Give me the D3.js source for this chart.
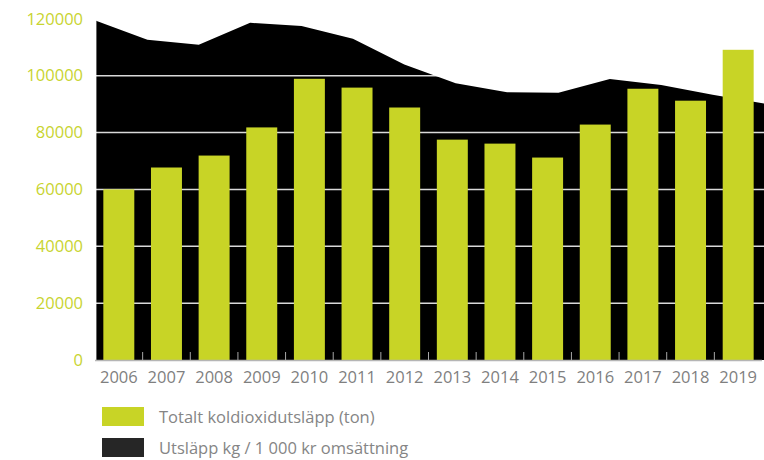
<!DOCTYPE html>
<html>
<head>
<meta charset="utf-8">
<script src="https://cdn.jsdelivr.net/npm/d3@7"></script>
<style>
  html, body { margin: 0; padding: 0; background: #fff; }
  svg { display: block; font-family: "Open Sans", sans-serif; }
</style>
</head>
<body>
<svg id="chart" width="764" height="460"></svg>
<script>
// Years on the x axis
const years = ["2006", "2007", "2008", "2009", "2010", "2011", "2012",
               "2013", "2014", "2015", "2016", "2017", "2018", "2019"];

// Total CO2 emissions (tonnes) – bars
const totalEmissions = [60000, 67700, 71900, 81800, 98900, 95800, 88800,
                        77500, 76100, 71200, 82800, 95400, 91200, 109100];

// Emissions per 1 000 kr turnover – black area, drawn against the same axis
const emissionsPerTurnover = [119300, 112600, 110900, 118600, 117500, 113000, 103900,
                              97300, 94200, 94000, 98800, 96700, 93300, 90200];

// Y axis tick values
const yTicks = [0, 20000, 40000, 60000, 80000, 100000, 120000];

// Legend entries
const legendLabels = ["Totalt koldioxidutsläpp (ton)", "Utsläpp kg / 1 000 kr omsättning"];

const svg = d3.select("#chart");

const plot = { left: 95, right: 762, top: 18.8, bottom: 360 };

const y = d3.scaleLinear().domain([0, 120000]).range([plot.bottom, plot.top]);

const x = d3.scaleBand()
  .domain(years)
  .range([plot.left, plot.right])
  .paddingInner(0.35)
  .paddingOuter(0.175);

// The area spans the full width, one vertex per year
const xArea = d3.scalePoint().domain(years).range([96, 764]);

// Area series
const area = d3.area()
  .x((d, i) => xArea(years[i]))
  .y0(y(0))
  .y1(d => y(d));

svg.append("path")
  .datum(emissionsPerTurnover)
  .attr("d", area)
  .attr("fill", "#000");

// Gridlines (light, only visible against the dark area)
svg.append("g")
  .selectAll("line")
  .data(yTicks.filter(t => t > 0))
  .join("line")
  .attr("x1", 96)
  .attr("x2", 764)
  .attr("y1", d => y(d))
  .attr("y2", d => y(d))
  .attr("stroke", "#fff")
  .attr("stroke-opacity", 0.85)
  .attr("stroke-width", 1.5);

// Left axis line
svg.append("line")
  .attr("x1", 96).attr("x2", 96)
  .attr("y1", y(0)).attr("y2", y(emissionsPerTurnover[0]))
  .attr("stroke", "#fff")
  .attr("stroke-opacity", 0.8)
  .attr("stroke-width", 1);

// Bars
svg.append("g")
  .selectAll("rect")
  .data(totalEmissions)
  .join("rect")
  .attr("x", (d, i) => x(years[i]))
  .attr("y", d => y(d))
  .attr("width", x.bandwidth())
  .attr("height", d => y(0) - y(d))
  .attr("fill", "#c8d426");

// X axis: baseline, ticks between categories, labels
const xAxisG = svg.append("g")
  .attr("transform", `translate(0,${plot.bottom})`)
  .call(d3.axisBottom(x).tickSize(0).tickPadding(11));
xAxisG.select(".domain")
  .attr("d", `M${plot.left},0.5H${plot.right}`)
  .attr("stroke", "#b5b5b5")
  .attr("stroke-width", 1.5);
xAxisG.selectAll(".tick text")
  .attr("fill", "#7f7f7f")
  .attr("font-size", "16.5px")
  .attr("font-family", "Open Sans, sans-serif");

const step = x.step();
xAxisG.append("g")
  .selectAll("line")
  .data(years.slice(1))
  .join("line")
  .attr("x1", d => x(d) - (step - x.bandwidth()) / 2)
  .attr("x2", d => x(d) - (step - x.bandwidth()) / 2)
  .attr("y1", 0)
  .attr("y2", -8)
  .attr("stroke", "#a8a8a8")
  .attr("stroke-width", 1);

// Y axis labels
const yAxisG = svg.append("g")
  .attr("transform", `translate(${plot.left},0)`)
  .call(d3.axisLeft(y).tickValues(yTicks).tickSize(0).tickPadding(12).tickFormat(d3.format("d")));
yAxisG.select(".domain").remove();
yAxisG.selectAll(".tick text")
  .attr("fill", "#c8d430")
  .attr("font-size", "16.5px")
  .attr("font-family", "Open Sans, sans-serif");

// Legend
const legendColors = ["#c8d426", "#262626"];
const legend = svg.append("g");
const rows = legend.selectAll("g")
  .data(legendLabels)
  .join("g")
  .attr("transform", (d, i) => `translate(102,${407 + i * 31})`);
rows.append("rect")
  .attr("width", 42)
  .attr("height", 19)
  .attr("fill", (d, i) => legendColors[i]);
rows.append("text")
  .attr("x", 57)
  .attr("y", 16)
  .attr("fill", "#858585")
  .attr("font-size", "16.5px")
  .text(d => d);
</script>
</body>
</html>
